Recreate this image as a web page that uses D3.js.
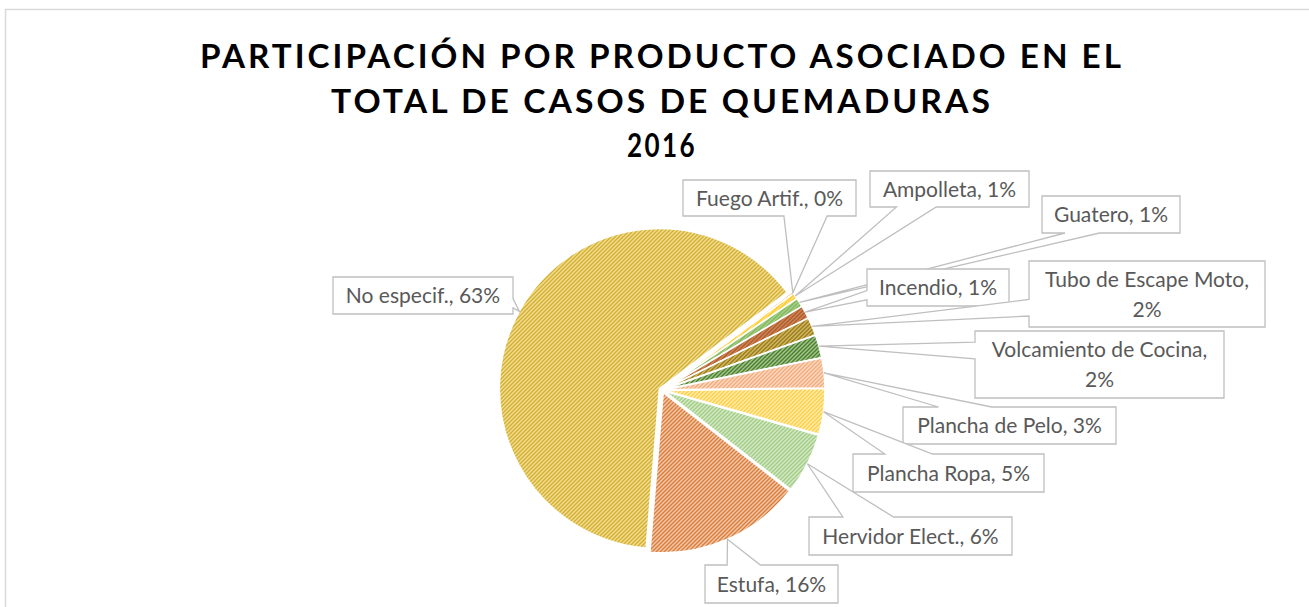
<!DOCTYPE html>
<html>
<head>
<meta charset="utf-8">
<script src="https://cdn.jsdelivr.net/npm/d3@7"></script>
<style>
  html, body { margin: 0; padding: 0; background: #fff; }
  svg { display: block; }
</style>
</head>
<body>
<svg id="chart" width="1309" height="607"></svg>
<script>
// ---------------- DATA ----------------
const categories = [
  "Fuego Artif.", "Ampolleta", "Guatero", "Incendio", "Tubo de Escape Moto",
  "Volcamiento de Cocina", "Plancha de Pelo", "Plancha Ropa", "Hervidor Elect.",
  "Estufa", "No especif."
];
const values = [0.2, 0.6, 0.9, 1.3, 1.8, 2.3, 3.0, 4.6, 6.1, 15.8, 63.4];
const titleLines = ["PARTICIPACIÓN POR PRODUCTO ASOCIADO EN EL", "TOTAL DE CASOS DE QUEMADURAS", "2016"];

// ---------------- STYLE / LAYOUT ----------------
const bgColors = ["#F9D3B8", "#FFEBA8", "#B5D99C", "#DE966A", "#DEC47A", "#AFD295",
                  "#FCE0CD", "#FFF3C4", "#E8F3E0", "#FBDCC6", "#FFF0BE"];
const fgColors = ["#ED7D31", "#FFC000", "#70AD47", "#9C4A16", "#8C6D00", "#3B6E22",
                  "#F1A26E", "#FFC72C", "#8CC168", "#D2661A", "#C49A00"];
// label callout boxes: [x, y, w, h, wrapped]
const labelBoxes = [
  [683, 180, 173, 36, false],
  [870, 171, 159, 36, false],
  [1042, 196, 138, 37, false],
  [867, 269, 142, 37, false],
  [1029, 261, 236, 66, true],
  [975, 331, 249, 67, true],
  [903, 407, 213, 37, false],
  [853, 454, 191, 38, false],
  [809, 517, 203, 38, false],
  [705, 565, 133, 38, false],
  [333, 277, 180, 37, false]
];
const cx = 662, cy = 390, R = 160, explode = 3;
const startDeg = 53;

const svg = d3.select("#chart");

// chart border
svg.append("rect").attr("x", 5.5).attr("y", 9.5).attr("width", 1320).attr("height", 620)
  .attr("fill", "#fff").attr("stroke", "#D9D9D9").attr("stroke-width", 1.5);

// patterns
const defs = svg.append("defs");
values.forEach((v, i) => {
  const p = defs.append("pattern").attr("id", "pat" + i)
    .attr("patternUnits", "userSpaceOnUse").attr("width", 4).attr("height", 4);
  p.append("rect").attr("width", 4).attr("height", 4).attr("fill", bgColors[i]);
  p.append("path").attr("d", "M-1,1 L1,-1 M0,4 L4,0 M3,5 L5,3")
    .attr("stroke", fgColors[i]).attr("stroke-width", 1.35);
});

// title
const title = svg.append("text").attr("text-anchor", "middle")
  .attr("font-family", "Lato, 'Open Sans', sans-serif").attr("font-weight", "bold")
  .attr("font-size", 33).attr("letter-spacing", 3).attr("fill", "#000");
const titleY = [68, 113, 157];
const titleW = [924, 662, 70];
titleLines.forEach((t, i) => {
  title.append("tspan").attr("x", cx).attr("y", titleY[i])
    .attr("textLength", titleW[i]).attr("lengthAdjust", "spacingAndGlyphs").text(t);
});

// pie
const pie = d3.pie().sort(null).value(d => d)
  .startAngle(startDeg * Math.PI / 180)
  .endAngle(startDeg * Math.PI / 180 + 2 * Math.PI);
const arcs = pie(values);
const arc = d3.arc().innerRadius(0).outerRadius(R);

svg.append("g").attr("transform", `translate(${cx},${cy})`)
  .selectAll("path").data(arcs).join("path")
  .attr("d", arc)
  .attr("transform", d => {
    const m = (d.startAngle + d.endAngle) / 2;
    return `translate(${Math.sin(m) * explode},${-Math.cos(m) * explode})`;
  })
  .attr("fill", (d, i) => `url(#pat${i})`)
  .attr("stroke", "#fff").attr("stroke-width", 1.5);

// callout labels (Excel wedgeRectCallout geometry)
const labelG = svg.append("g");
arcs.forEach((d, i) => {
  const m = (d.startAngle + d.endAngle) / 2;
  const ax = cx + Math.sin(m) * (R + explode);
  const ay = cy - Math.cos(m) * (R + explode);
  const [x, y, w, h, wrap] = labelBoxes[i];
  const dx = ax - (x + w / 2), dy = ay - (y + h / 2);
  let path;
  if (Math.abs(dy) / h > Math.abs(dx) / w) {
    const a = x + w * (dx > 0 ? 7 : 2) / 12, b = x + w * (dx > 0 ? 10 : 5) / 12;
    if (dy < 0) path = `M${x},${y}H${a}L${ax},${ay}L${b},${y}H${x + w}V${y + h}H${x}Z`;
    else path = `M${x},${y}H${x + w}V${y + h}H${b}L${ax},${ay}L${a},${y + h}H${x}Z`;
  } else {
    const a = y + h * (dy > 0 ? 7 : 2) / 12, b = y + h * (dy > 0 ? 10 : 5) / 12;
    if (dx < 0) path = `M${x},${y}H${x + w}V${y + h}H${x}V${b}L${ax},${ay}L${x},${a}Z`;
    else path = `M${x},${y}H${x + w}V${a}L${ax},${ay}L${x + w},${b}V${y + h}H${x}Z`;
  }
  labelG.append("path").attr("d", path).attr("fill", "#fff")
    .attr("stroke", "#BFBFBF").attr("stroke-width", 1.3).attr("stroke-linejoin", "miter");
  const pct = Math.round(values[i]) + "%";
  const lines = wrap ? [categories[i] + ",", pct] : [categories[i] + ", " + pct];
  const lh = 30, cap = 15;
  const t = labelG.append("text").attr("text-anchor", "middle")
    .attr("font-family", "Lato, 'Open Sans', sans-serif").attr("font-size", 21)
    .attr("fill", "#595959");
  lines.forEach((ln, k) => {
    const base = y + h / 2 - (lines.length - 1) * lh / 2 + k * lh + cap / 2;
    t.append("tspan").attr("x", x + w / 2).attr("y", base).text(ln);
  });
});
</script>
</body>
</html>
